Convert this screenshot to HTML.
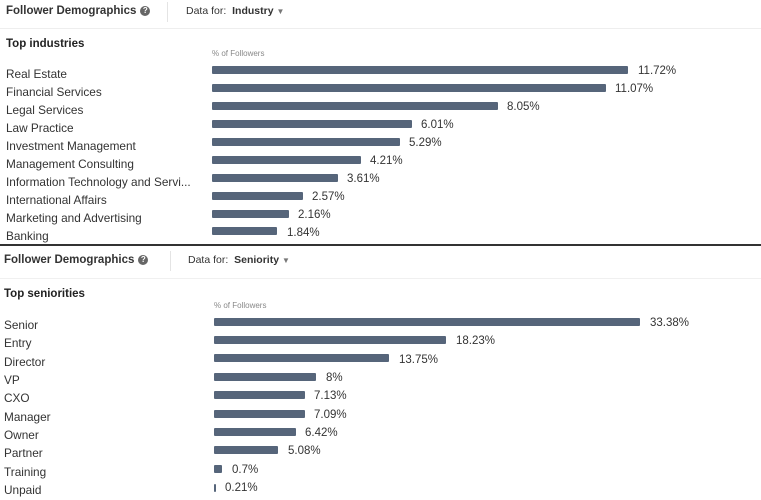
<!DOCTYPE html><html><head><style>
body{margin:0;width:761px;height:500px;background:#fff;position:relative;overflow:hidden;font-family:"Liberation Sans",sans-serif;color:#222}
div{position:absolute;white-space:nowrap}
.h{font-weight:bold;font-size:11.5px;color:#333}
.q{display:inline-block;width:10px;height:10px;border-radius:50%;background:#666;color:#fff;font-size:8px;text-align:center;line-height:10px;vertical-align:1px;margin-left:4px}
.df{font-size:10.5px;color:#333}
.df b{font-weight:bold}
.t{font-weight:bold;font-size:11.5px;color:#222}
.p{font-size:8px;color:#888}
.l{font-size:11.8px;color:#333;margin-top:1px}
.b{background:#56657a;height:8px;border-radius:1px}
.v{font-size:11.5px;color:#333;margin-top:1px}
</style></head><body>
<div class="h" style="left:6px;top:5px">Follower Demographics<span class="q">?</span></div>
<div style="left:167px;top:2px;width:1px;height:20px;background:#e4e4e4"></div>
<div class="df" style="left:186px;top:5px">Data for:&nbsp; <b>Industry</b> <span style="font-size:8px;color:#777">▼</span></div>
<div style="left:0;top:28px;width:761px;height:1px;background:#eee"></div>
<div class="t" style="left:6px;top:38px">Top industries</div>
<div class="p" style="left:212px;top:49px">% of Followers</div>

<div class="l" style="left:6px;top:66px">Real Estate</div><div class="b" style="left:212px;top:66px;width:416px"></div><div class="v" style="left:638px;top:64px">11.72%</div>
<div class="l" style="left:6px;top:84px">Financial Services</div><div class="b" style="left:212px;top:84px;width:394px"></div><div class="v" style="left:615px;top:82px">11.07%</div>
<div class="l" style="left:6px;top:102px">Legal Services</div><div class="b" style="left:212px;top:102px;width:286px"></div><div class="v" style="left:507px;top:100px">8.05%</div>
<div class="l" style="left:6px;top:120px">Law Practice</div><div class="b" style="left:212px;top:120px;width:200px"></div><div class="v" style="left:421px;top:118px">6.01%</div>
<div class="l" style="left:6px;top:138px">Investment Management</div><div class="b" style="left:212px;top:138px;width:188px"></div><div class="v" style="left:409px;top:136px">5.29%</div>
<div class="l" style="left:6px;top:156px">Management Consulting</div><div class="b" style="left:212px;top:156px;width:149px"></div><div class="v" style="left:370px;top:154px">4.21%</div>
<div class="l" style="left:6px;top:174px">Information Technology and Servi...</div><div class="b" style="left:212px;top:174px;width:126px"></div><div class="v" style="left:347px;top:172px">3.61%</div>
<div class="l" style="left:6px;top:192px">International Affairs</div><div class="b" style="left:212px;top:192px;width:91px"></div><div class="v" style="left:312px;top:190px">2.57%</div>
<div class="l" style="left:6px;top:210px">Marketing and Advertising</div><div class="b" style="left:212px;top:210px;width:77px"></div><div class="v" style="left:298px;top:208px">2.16%</div>
<div class="l" style="left:6px;top:228px">Banking</div><div class="b" style="left:212px;top:227px;width:65px"></div><div class="v" style="left:287px;top:226px">1.84%</div>

<div style="left:0;top:244px;width:761px;height:2px;background:#333"></div>

<div class="h" style="left:4px;top:254px">Follower Demographics<span class="q">?</span></div>
<div style="left:170px;top:251px;width:1px;height:20px;background:#e4e4e4"></div>
<div class="df" style="left:188px;top:254px">Data for:&nbsp; <b>Seniority</b> <span style="font-size:8px;color:#777">▼</span></div>
<div style="left:0;top:278px;width:761px;height:1px;background:#f0f0f0"></div>
<div class="t" style="left:4px;top:288px">Top seniorities</div>
<div class="p" style="left:214px;top:301px">% of Followers</div>

<div class="l" style="left:4px;top:317px">Senior</div><div class="b" style="left:214px;top:318px;width:426px"></div><div class="v" style="left:650px;top:316px">33.38%</div>
<div class="l" style="left:4px;top:335px">Entry</div><div class="b" style="left:214px;top:336px;width:232px"></div><div class="v" style="left:456px;top:334px">18.23%</div>
<div class="l" style="left:4px;top:354px">Director</div><div class="b" style="left:214px;top:354px;width:175px"></div><div class="v" style="left:399px;top:353px">13.75%</div>
<div class="l" style="left:4px;top:372px">VP</div><div class="b" style="left:214px;top:373px;width:102px"></div><div class="v" style="left:326px;top:371px">8%</div>
<div class="l" style="left:4px;top:390px">CXO</div><div class="b" style="left:214px;top:391px;width:91px"></div><div class="v" style="left:314px;top:389px">7.13%</div>
<div class="l" style="left:4px;top:409px">Manager</div><div class="b" style="left:214px;top:410px;width:91px"></div><div class="v" style="left:314px;top:408px">7.09%</div>
<div class="l" style="left:4px;top:427px">Owner</div><div class="b" style="left:214px;top:428px;width:82px"></div><div class="v" style="left:305px;top:426px">6.42%</div>
<div class="l" style="left:4px;top:445px">Partner</div><div class="b" style="left:214px;top:446px;width:64px"></div><div class="v" style="left:288px;top:444px">5.08%</div>
<div class="l" style="left:4px;top:464px">Training</div><div class="b" style="left:214px;top:465px;width:8px"></div><div class="v" style="left:232px;top:463px">0.7%</div>
<div class="l" style="left:4px;top:482px">Unpaid</div><div class="b" style="left:214px;top:484px;width:2px"></div><div class="v" style="left:225px;top:481px">0.21%</div>
</body></html>
